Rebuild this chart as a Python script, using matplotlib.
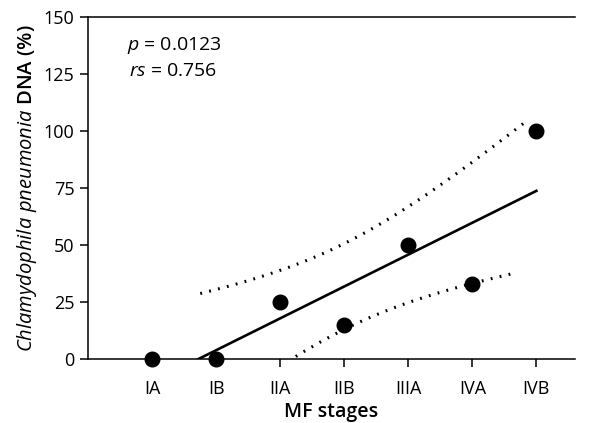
import numpy as np
import matplotlib.pyplot as plt

plt.rcParams['font.family'] = ['Open Sans', 'DejaVu Sans']
plt.rcParams['mathtext.fontset'] = 'custom'
plt.rcParams['mathtext.rm'] = 'Open Sans'
plt.rcParams['mathtext.it'] = 'Open Sans:italic'

# data
stages = ['IA', 'IB', 'IIA', 'IIB', 'IIIA', 'IVA', 'IVB']
dna_pct = [0, 0, 25, 15, 50, 33, 100]

# x range over which the fit / bands are drawn
fit_range = (1.0, 7.0)
upper_range = (1.75, 6.85)
lower_range = (3.0, 6.7)

x = np.arange(1, len(stages) + 1)
y = np.array(dna_pct, dtype=float)

# linear fit with 95% confidence band of the mean
slope, intercept = np.polyfit(x, y, 1)
n = len(x)
resid = y - (slope * x + intercept)
s = np.sqrt(np.sum(resid ** 2) / (n - 2))
t = 2.571  # t(0.975, df=5)
sxx = np.sum((x - x.mean()) ** 2)

def band(xx, sign):
    half = t * s * np.sqrt(1.0 / n + (xx - x.mean()) ** 2 / sxx)
    return slope * xx + intercept + sign * half

fig = plt.figure(figsize=(6, 4.23), dpi=100)
ax = fig.add_axes([0.147, 0.151, 0.811, 0.809])

xf = np.linspace(*fit_range, 100)
ax.plot(xf, slope * xf + intercept, color='black', lw=1.9)

xu = np.linspace(*upper_range, 100)
ax.plot(xu, band(xu, 1), color='black', lw=2.2, linestyle=(0, (0.6, 2.4)))
xl = np.linspace(*lower_range, 100)
ax.plot(xl, band(xl, -1), color='black', lw=2.2, linestyle=(0, (0.6, 2.4)))

ax.scatter(x, y, s=110, color='black', zorder=3, clip_on=False)

ax.set_xlim(0, 7.6)
ax.set_ylim(0, 150)
ax.set_xticks(x)
ax.set_xticklabels(stages)
ax.set_yticks([0, 25, 50, 75, 100, 125, 150])

ax.spines['right'].set_visible(False)
for sp in ['left', 'bottom', 'top']:
    ax.spines[sp].set_linewidth(1.1)
ax.tick_params(direction='out', length=6, width=1.1, labelsize=13)
ax.tick_params(axis='x', pad=9)
ax.tick_params(axis='y', pad=4)

ax.set_xlabel('MF stages', fontsize=14, fontweight='semibold', labelpad=3)
ax.set_ylabel(r'$\mathit{Chlamydophila\ pneumonia}$ DNA (%)', fontsize=14.5,
              fontweight='semibold', labelpad=3)

ax.text(0.6, 137.5, r'$\mathit{p}$ = 0.0123', fontsize=14, ha='left', va='center')
ax.text(0.63, 126.5, r'$\mathit{rs}$ = 0.756', fontsize=14, ha='left', va='center')

fig.savefig('out.png', dpi=100)
